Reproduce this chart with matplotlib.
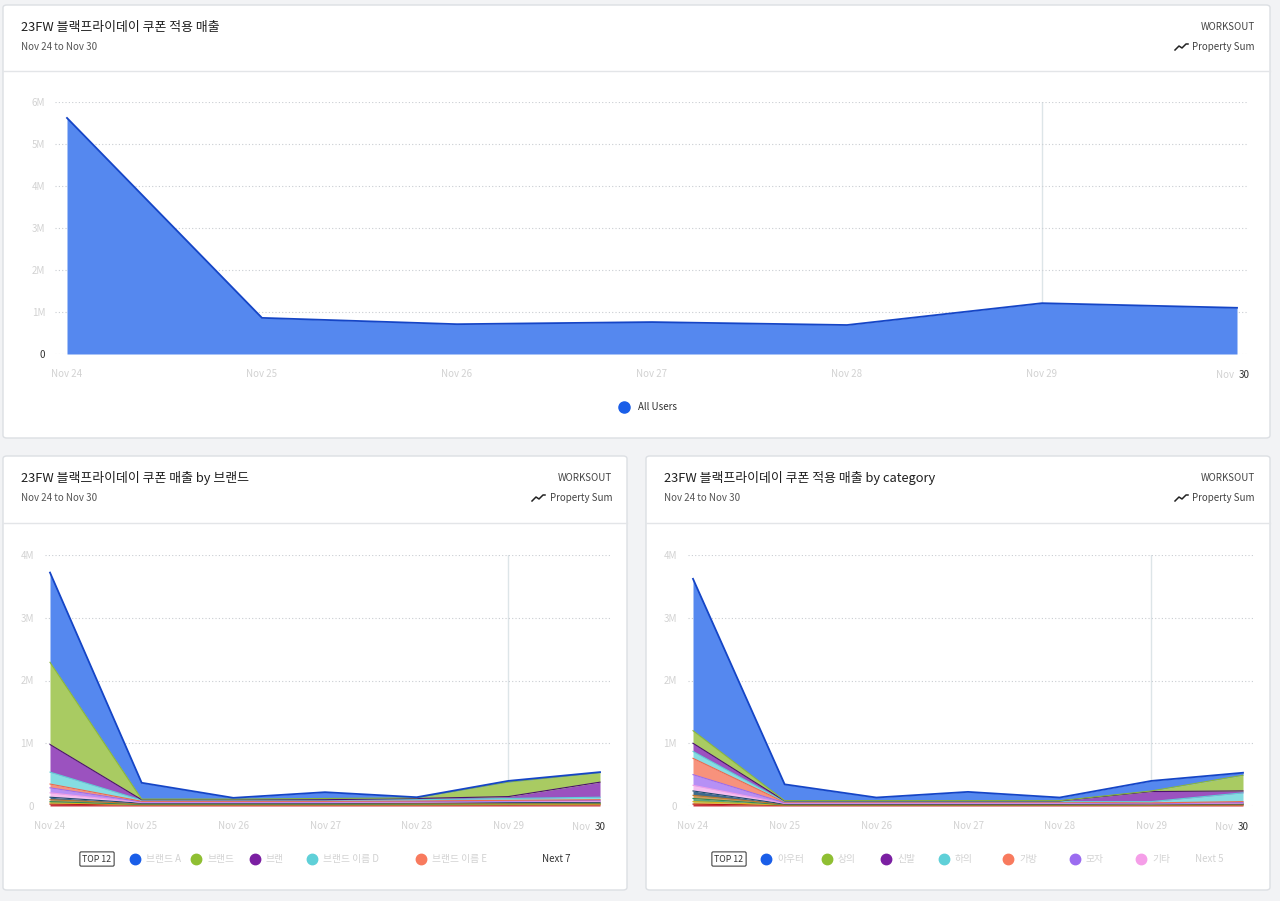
import numpy as np
import matplotlib.pyplot as plt
from matplotlib.patches import FancyBboxPatch
from matplotlib.lines import Line2D

plt.rcParams['font.family'] = ['Noto Sans CJK KR', 'DejaVu Sans']

# ---- data (units: one gridline step) ----
days = ["Nov 24", "Nov 25", "Nov 26", "Nov 27", "Nov 28", "Nov 29", "Nov 30"]
top_ticks = ["0", "1M", "2M", "3M", "4M", "5M", "6M"]
bottom_ticks = ["0", "1M", "2M", "3M", "4M"]

all_users = [5.62, 0.86, 0.71, 0.76, 0.69, 1.21, 1.10]

brand_names = ["브랜드 A", "브랜드", "브랜", "브랜드 이름 D", "브랜드 이름 E",
               "F", "G", "H", "I", "J", "K", "L"]
brand_a = [1.43, 0.26, 0.02, 0.10, 0.01, 0.02, 0.01]
brand_b = [1.31, 0.01, 0.01, 0.02, 0.01, 0.23, 0.15]
brand_c = [0.44, 0.005, 0.005, 0.005, 0.02, 0.03, 0.24]
brand_d = [0.19, 0.02, 0.02, 0.02, 0.02, 0.03, 0.04]
brand_e = [0.06, 0.01, 0.01, 0.01, 0.01, 0.01, 0.01]
brand_f = [0.08, 0.01, 0.01, 0.01, 0.01, 0.01, 0.015]
brand_g = [0.07, 0.01, 0.01, 0.01, 0.01, 0.015, 0.015]
brand_h = [0.04, 0.01, 0.01, 0.01, 0.01, 0.01, 0.01]
brand_i = [0.03, 0.01, 0.01, 0.01, 0.01, 0.01, 0.01]
brand_j = [0.02, 0.005, 0.005, 0.005, 0.01, 0.01, 0.01]
brand_k = [0.02, 0.005, 0.005, 0.005, 0.005, 0.01, 0.01]
brand_l = [0.03, 0.015, 0.015, 0.015, 0.015, 0.015, 0.02]

cat_names = ["아우터", "상의", "신발", "하의", "가방", "모자", "기타",
             "H", "I", "J", "K", "L"]
cat_a = [2.42, 0.26, 0.05, 0.14, 0.05, 0.16, 0.04]
cat_b = [0.20, 0.005, 0.005, 0.005, 0.005, 0.01, 0.25]
cat_c = [0.13, 0.01, 0.01, 0.01, 0.01, 0.16, 0.03]
cat_d = [0.11, 0.01, 0.01, 0.01, 0.01, 0.02, 0.14]
cat_e = [0.26, 0.01, 0.01, 0.01, 0.01, 0.01, 0.015]
cat_f = [0.17, 0.01, 0.01, 0.01, 0.01, 0.005, 0.01]
cat_g = [0.09, 0.01, 0.01, 0.01, 0.01, 0.005, 0.01]
cat_h = [0.07, 0.005, 0.005, 0.005, 0.005, 0.005, 0.005]
cat_i = [0.05, 0.005, 0.005, 0.005, 0.005, 0.005, 0.005]
cat_j = [0.05, 0.005, 0.005, 0.005, 0.005, 0.005, 0.005]
cat_k = [0.04, 0.005, 0.005, 0.005, 0.005, 0.005, 0.005]
cat_l = [0.03, 0.01, 0.01, 0.01, 0.01, 0.01, 0.015]

line_colors = ['#1545c6', '#8ab838', '#4a0f6e', '#5fcfd6', '#f0684c', '#9a6cf0',
               '#f09de6', '#1d4a6e', '#c07a2a', '#2f8a5a', '#d9b41c', '#b8141e']
fill_colors = ['#5588ef', '#a9cb62', '#9b52bf', '#86dde2', '#f7927c', '#b690f5',
               '#f6bdee', '#3f6b8c', '#d19a55', '#5aa67e', '#e5c752', '#c8333c']
dot_colors = ['#1a5ee8', '#8fbf32', '#7b1fa2', '#5fd0d8', '#f87a5e', '#9b6cf0', '#f59ee8']

W, H = 1280, 901
BLUR = '#d2d2d2'


def fx(x):
    return x / W


def fy(y):
    return 1 - y / H


fig = plt.figure(figsize=(12.8, 9.01), dpi=100, facecolor='#f2f3f5')


def panel(x0, y0, x1, y1, sep_y, title):
    fig.add_artist(FancyBboxPatch((fx(x0), fy(y1)), (x1 - x0) / W, (y1 - y0) / H,
                                  boxstyle="round,pad=0,rounding_size=0.003",
                                  transform=fig.transFigure, fc='white', ec='#dcdfe3', lw=1,
                                  zorder=-10))
    fig.add_artist(Line2D([fx(x0), fx(x1)], [fy(sep_y), fy(sep_y)],
                          transform=fig.transFigure, color='#e3e5e8', lw=1, zorder=-9))
    fig.text(fx(x0 + 18), fy(y0 + 22), title, fontsize=9.3, color='#1f1f1f', va='center')
    fig.text(fx(x0 + 18), fy(y0 + 42), "Nov 24 to Nov 30", fontsize=7, color='#555', va='center')
    fig.text(fx(x1 - 15), fy(y0 + 22), "WORKSOUT", fontsize=7, color='#444', va='center', ha='right')
    fig.text(fx(x1 - 15), fy(y0 + 42), "Property Sum", fontsize=7, color='#444', va='center', ha='right')
    # trend icon
    ix = x1 - 85
    iy = y0 + 42
    xs = [ix - 10, ix - 6, ix - 3, ix + 1, ix + 3]
    ys = [iy + 3, iy - 1, iy + 1, iy - 3, iy - 3]
    fig.add_artist(Line2D([fx(v) for v in xs], [fy(v) for v in ys],
                          transform=fig.transFigure, color='#222', lw=1.1))


def style_axes(ax, xlim, ylabels, pad_y):
    ax.set_xlim(xlim[0], xlim[1])
    ax.set_facecolor('none')
    for s in ax.spines.values():
        s.set_visible(False)
    ax.set_yticks(range(len(ylabels)))
    ax.set_yticklabels(ylabels)
    ax.grid(axis='y', color='#c9cdd2', linestyle=(0, (1, 2)), lw=0.8)
    ax.set_axisbelow(True)
    ax.tick_params(length=0, labelsize=7, colors=BLUR, pad=pad_y)
    ax.tick_params(axis='x', pad=11)


def last_label(ax, dx):
    ax.set_xticks(range(6))
    ax.set_xticklabels(days[:6])
    ax.annotate("30", xy=(1, 0), xycoords='axes fraction', xytext=(dx, -15),
                textcoords='offset points', ha='right', va='center', fontsize=7, color='#333')
    ax.annotate("Nov", xy=(1, 0), xycoords='axes fraction', xytext=(dx - 11, -15),
                textcoords='offset points', ha='right', va='center', fontsize=7, color=BLUR)


def stacked(ax, series):
    x = np.arange(len(days))
    arr = np.array(series)
    tops = np.cumsum(arr[::-1], axis=0)[::-1]  # first series on top
    n = len(series)
    for i in range(n - 1, -1, -1):
        base = tops[i + 1] if i + 1 < n else np.zeros(len(x))
        ax.fill_between(x, base, tops[i], color=fill_colors[i], lw=0)
        ax.plot(x, tops[i], color=line_colors[i], lw=1.3 if i == 0 else 0.8)


# ---- top panel ----
panel(3, 5, 1270, 438, 71, "23FW 블랙프라이데이 쿠폰 적용 매출")
ax1 = fig.add_axes([fx(55), fy(354), (1248 - 55) / W, (354 - 102) / H])
x = np.arange(len(days))
ax1.fill_between(x, 0, all_users, color='#5588ef', lw=0)
ax1.plot(x, all_users, color='#1545c6', lw=1.3)
ax1.axvline(5, color='#dde5e8', lw=1, zorder=0)
style_axes(ax1, (-12 / 195, 6 + 11 / 195), top_ticks, 7)
ax1.set_ylim(0, 6)
last_label(ax1, 1)
ax1.get_yticklabels()[0].set_color('#333')
fig.add_artist(Line2D([fx(624)], [fy(407)], transform=fig.transFigure, marker='o',
                      ms=8, color='#1a5ee8', lw=0))
fig.text(fx(638), fy(407), "All Users", fontsize=7, color='#333', va='center')

# ---- bottom left: brand ----
panel(3, 456, 627, 890, 523, "23FW 블랙프라이데이 쿠폰 매출 by 브랜드")
ax2 = fig.add_axes([fx(45), fy(806), (610 - 45) / W, (806 - 555) / H])
stacked(ax2, [brand_a, brand_b, brand_c, brand_d, brand_e, brand_f, brand_g,
              brand_h, brand_i, brand_j, brand_k, brand_l])
ax2.axvline(5, color='#dde5e8', lw=1, zorder=0)
style_axes(ax2, (-5 / 91.67, 6 + 10 / 91.67), bottom_ticks, 8)
ax2.set_ylim(0, 4)
last_label(ax2, -3)

# ---- bottom right: category ----
panel(646, 456, 1270, 890, 523, "23FW 블랙프라이데이 쿠폰 적용 매출 by category")
ax3 = fig.add_axes([fx(688), fy(806), (1253 - 688) / W, (806 - 555) / H])
stacked(ax3, [cat_a, cat_b, cat_c, cat_d, cat_e, cat_f, cat_g,
              cat_h, cat_i, cat_j, cat_k, cat_l])
ax3.axvline(5, color='#dde5e8', lw=1, zorder=0)
style_axes(ax3, (-5 / 91.67, 6 + 10 / 91.67), bottom_ticks, 8)
ax3.set_ylim(0, 4)
last_label(ax3, -3)


# ---- legends ----
def badge(xc, y):
    fig.text(fx(xc), fy(y), "TOP 12", fontsize=6.3, color='#333', ha='center', va='center',
             bbox=dict(boxstyle='round,pad=0.3,rounding_size=0.15', fc='white', ec='#444', lw=0.8))


def legend_items(dot_x, names, y):
    for i, dx in enumerate(dot_x):
        fig.add_artist(Line2D([fx(dx)], [fy(y)], transform=fig.transFigure, marker='o',
                              ms=7.5, color=dot_colors[i], lw=0))
        fig.text(fx(dx + 11), fy(y), names[i], fontsize=7, color=BLUR, va='center')


badge(97, 859)
legend_items([135, 196, 255, 312, 421], brand_names, 859)
fig.text(fx(542), fy(859), "Next 7", fontsize=7, color='#333', va='center')

badge(729, 859)
legend_items([766, 827, 886, 944, 1008, 1075, 1141], cat_names, 859)
fig.text(fx(1195), fy(859), "Next 5", fontsize=7, color=BLUR, va='center')

fig.savefig("out.png", dpi=100, facecolor=fig.get_facecolor())
